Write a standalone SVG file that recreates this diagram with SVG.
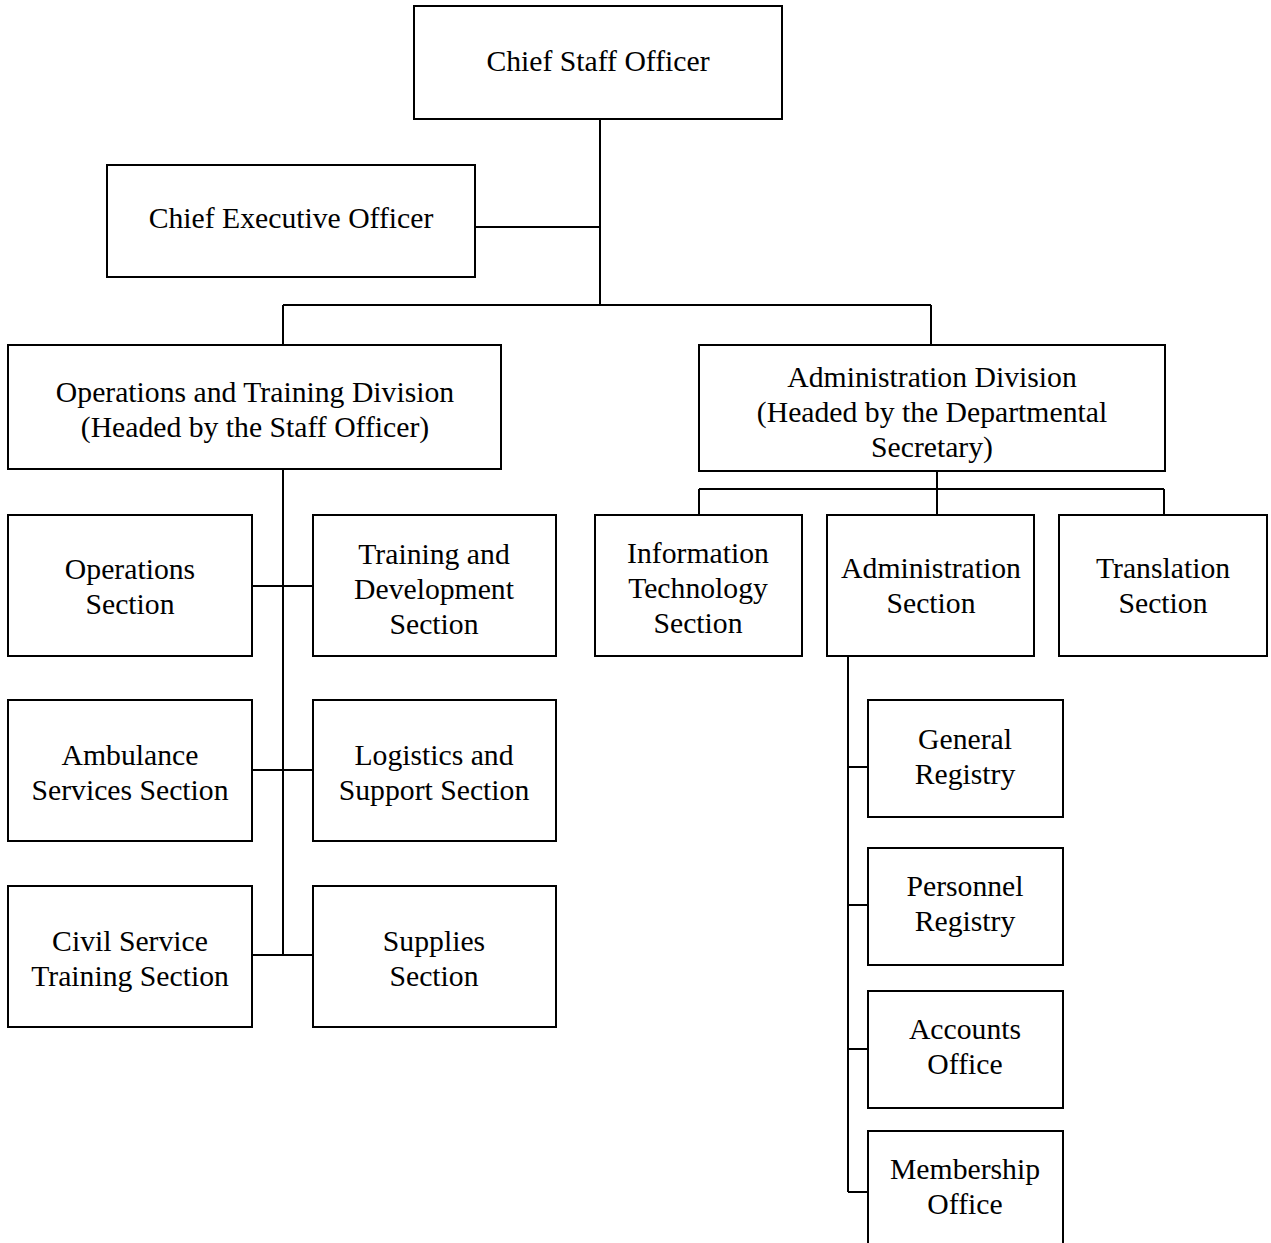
<svg xmlns="http://www.w3.org/2000/svg" width="1271" height="1243" viewBox="0 0 1271 1243">
<style>
.box{fill:#fff;stroke:#000;stroke-width:2}
.lbl{font-family:"Liberation Serif","Times New Roman",serif;font-size:29.7px;fill:#000;text-anchor:middle}
.con{fill:none;stroke:#000;stroke-width:2}
</style>
<rect width="1271" height="1243" fill="#fff"/>
<g id="connectors">
<path class="con" d="M600 119V305M475 227H600M283 305H931M283 305V345M931 305V345"/>
<path class="con" d="M283 469V955M252 586H313M252 770H313M252 955H313"/>
<path class="con" d="M937 471V489M699 489H1164M699 489V515M937 489V515M1164 489V515"/>
<path class="con" d="M848 656V1192M848 767H868M848 905H868M848 1049H868M848 1192H868"/>
</g>
<g id="chief-staff-officer"><rect class="box" x="414" y="6" width="368" height="113"/><text class="lbl" x="598" y="71">Chief Staff Officer</text></g>
<g id="chief-executive-officer"><rect class="box" x="107" y="165" width="368" height="112"/><text class="lbl" x="291" y="228">Chief Executive Officer</text></g>
<g id="operations-training-division"><rect class="box" x="8" y="345" width="493" height="124"/><text class="lbl" x="255" y="402">Operations and Training Division</text><text class="lbl" x="255" y="437">(Headed by the Staff Officer)</text></g>
<g id="administration-division"><rect class="box" x="699" y="345" width="466" height="126"/><text class="lbl" x="932" y="387">Administration Division</text><text class="lbl" x="932" y="422">(Headed by the Departmental</text><text class="lbl" x="932" y="457">Secretary)</text></g>
<g id="operations-section"><rect class="box" x="8" y="515" width="244" height="141"/><text class="lbl" x="130" y="579">Operations</text><text class="lbl" x="130" y="614">Section</text></g>
<g id="training-development-section"><rect class="box" x="313" y="515" width="243" height="141"/><text class="lbl" x="434" y="564">Training and</text><text class="lbl" x="434" y="599">Development</text><text class="lbl" x="434" y="634">Section</text></g>
<g id="ambulance-services-section"><rect class="box" x="8" y="700" width="244" height="141"/><text class="lbl" x="130" y="765">Ambulance</text><text class="lbl" x="130" y="800">Services Section</text></g>
<g id="logistics-support-section"><rect class="box" x="313" y="700" width="243" height="141"/><text class="lbl" x="434" y="765">Logistics and</text><text class="lbl" x="434" y="800">Support Section</text></g>
<g id="civil-service-training-section"><rect class="box" x="8" y="886" width="244" height="141"/><text class="lbl" x="130" y="951">Civil Service</text><text class="lbl" x="130" y="986">Training Section</text></g>
<g id="supplies-section"><rect class="box" x="313" y="886" width="243" height="141"/><text class="lbl" x="434" y="951">Supplies</text><text class="lbl" x="434" y="986">Section</text></g>
<g id="information-technology-section"><rect class="box" x="595" y="515" width="207" height="141"/><text class="lbl" x="698" y="563">Information</text><text class="lbl" x="698" y="598">Technology</text><text class="lbl" x="698" y="633">Section</text></g>
<g id="administration-section"><rect class="box" x="827" y="515" width="207" height="141"/><text class="lbl" x="931" y="578">Administration</text><text class="lbl" x="931" y="613">Section</text></g>
<g id="translation-section"><rect class="box" x="1059" y="515" width="208" height="141"/><text class="lbl" x="1163" y="578">Translation</text><text class="lbl" x="1163" y="613">Section</text></g>
<g id="general-registry"><rect class="box" x="868" y="700" width="195" height="117"/><text class="lbl" x="965" y="749">General</text><text class="lbl" x="965" y="784">Registry</text></g>
<g id="personnel-registry"><rect class="box" x="868" y="848" width="195" height="117"/><text class="lbl" x="965" y="896">Personnel</text><text class="lbl" x="965" y="931">Registry</text></g>
<g id="accounts-office"><rect class="box" x="868" y="991" width="195" height="117"/><text class="lbl" x="965" y="1039">Accounts</text><text class="lbl" x="965" y="1074">Office</text></g>
<g id="membership-office"><rect class="box" x="868" y="1131" width="195" height="130"/><text class="lbl" x="965" y="1179">Membership</text><text class="lbl" x="965" y="1214">Office</text></g>
</svg>
